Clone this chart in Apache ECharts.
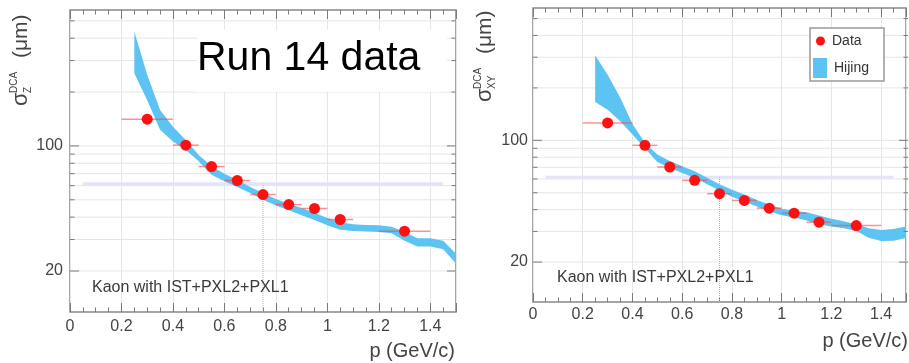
<!DOCTYPE html>
<html>
<head>
<meta charset="utf-8">
<script src="https://cdn.jsdelivr.net/npm/echarts@6/dist/echarts.min.js"></script>
<style>
  html, body { margin: 0; padding: 0; background: #fff; }
  #c { width: 909px; height: 363px; }
</style>
</head>
<body>
<div id="c"></div>
<script>
// ---- Kaon DCA resolution vs momentum, Run 14 data compared with Hijing ----

// sigma_Z panel: bin centres, bin edges (GeV/c) and resolution (um)
const pZ      = [0.3, 0.45, 0.55, 0.65, 0.75, 0.85, 0.95, 1.05, 1.3];
const pZLo    = [0.2, 0.4, 0.5, 0.6, 0.7, 0.8, 0.9, 1.0, 1.2];
const pZHi    = [0.4, 0.5, 0.6, 0.7, 0.8, 0.9, 1.0, 1.1, 1.4];
const sigmaZ  = [141, 101, 76.7, 64.1, 53.5, 47.0, 44.7, 38.8, 33.4];

// sigma_XY panel
const pXY      = [0.3, 0.45, 0.55, 0.65, 0.75, 0.85, 0.95, 1.05, 1.15, 1.3];
const pXYLo    = [0.2, 0.4, 0.5, 0.6, 0.7, 0.8, 0.9, 1.0, 1.1, 1.2];
const pXYHi    = [0.4, 0.5, 0.6, 0.7, 0.8, 0.9, 1.0, 1.1, 1.2, 1.4];
const sigmaXY  = [125.8, 93.6, 70.3, 58.9, 49.4, 45.2, 40.8, 38.2, 33.9, 32.4];

// Hijing simulation bands (lower / upper edge, um)
const hijingP = [0.25, 0.30, 0.35, 0.40, 0.45, 0.50, 0.55, 0.60, 0.65, 0.70, 0.75, 0.80, 0.85,
                 0.90, 0.95, 1.00, 1.05, 1.10, 1.15, 1.20, 1.25, 1.30, 1.35, 1.40, 1.45, 1.50];
const hijingZHi  = [435, 250, 159, 128, 108, 89, 77, 70, 64.5, 59, 54.5, 50.5, 47.5,
                    45, 42.3, 39.5, 37.5, 36.5, 36.2, 36, 35.4, 33, 30.5, 30.5, 29.5, 25];
const hijingZLo  = [255, 180, 123, 106, 95, 82, 69, 63.5, 59, 54.5, 50, 46.5, 43.7,
                    41, 38.6, 36, 34, 33.5, 33.2, 33, 32.5, 29.5, 27.4, 27.4, 26.5, 22];
const hijingXYHi = [308, 238, 177, 124, 97, 83, 76, 71, 66.5, 61, 56, 52, 48.8,
                    45.5, 42.8, 40.5, 39.3, 38.7, 37, 35.5, 34.3, 33, 31.3, 30.6, 31, 32];
const hijingXYLo = [166, 150, 129, 108, 90, 75, 69.5, 65, 61, 56, 51.5, 47.5, 44.6,
                    41.7, 39.2, 37.2, 36, 34.7, 33, 32, 31.3, 30.2, 27.6, 26.4, 26.5, 27.5];

// 60 um requirement level and the 0.75 GeV/c reference momentum
const targetSigma = [61.5, 61.3];
const targetSpan  = [0.05, 1.45];
const targetP     = 0.75;

// axis tick values
const xTickStep   = 0.2;
const yRange      = [11.8, 575];
const yTickValues = [20, 30, 40, 50, 60, 70, 80, 90, 100, 200, 300, 400, 500];
const yLabelValues = [20, 100];

const FONT = "'Liberation Sans', Arial, Helvetica, sans-serif";
const HIJING_COLOR = '#5cc3f3';
const DATA_COLOR = '#ff1010';
const AXIS_COLOR = '#7a7a7a';
const GRID_COLOR = '#e6e6e6';

const grids = [
  { left: 70,  top: 10, width: 386, height: 302 },
  { left: 533, top: 8,  width: 375, height: 294 }
];

const chart = echarts.init(document.getElementById('c'), null, { renderer: 'canvas' });

function xLabelFmt(v) {
  const k = v / xTickStep;
  return Math.abs(k - Math.round(k)) < 1e-6 ? String(+v.toFixed(1)) : '';
}

function xAxisBottom(gi, margin) {
  return {
    type: 'value', gridIndex: gi, position: 'bottom', min: 0, max: 1.5, interval: xTickStep,
    axisLine: { show: false },
    axisTick: { show: true, inside: true, length: 9, lineStyle: { color: AXIS_COLOR, width: 1 } },
    minorTick: { show: true, splitNumber: 4, length: 4.5, lineStyle: { color: AXIS_COLOR, width: 1 } },
    splitLine: { show: true, lineStyle: { color: GRID_COLOR, width: 1 } },
    axisLabel: { show: true, fontSize: 16, color: '#444', fontFamily: FONT, margin: margin, formatter: xLabelFmt }
  };
}
function xAxisTop(gi) {
  return {
    type: 'value', gridIndex: gi, position: 'top', min: 0, max: 1.5, interval: xTickStep,
    axisLine: { show: false },
    axisTick: { show: true, inside: true, length: 9, lineStyle: { color: AXIS_COLOR, width: 1 } },
    minorTick: { show: true, splitNumber: 4, length: 4.5, lineStyle: { color: AXIS_COLOR, width: 1 } },
    splitLine: { show: false },
    axisLabel: { show: false }
  };
}
function yAxisLog(gi) {
  return {
    type: 'log', logBase: 10, gridIndex: gi, min: yRange[0], max: yRange[1],
    axisLine: { show: false }, axisTick: { show: false }, axisLabel: { show: false },
    splitLine: { show: false }, minorTick: { show: false }
  };
}

function bandSeries(xi, yi, p, lo, hi) {
  return {
    type: 'custom', name: 'Hijing', xAxisIndex: xi, yAxisIndex: yi, z: 2, silent: true, clip: true,
    itemStyle: { color: HIJING_COLOR },
    data: p.map((v, i) => [v, lo[i], hi[i]]),
    encode: { x: 0, y: [1, 2] },
    renderItem: function (params, api) {
      if (params.dataIndex !== 0) return null;
      const pts = [];
      for (let i = 0; i < p.length; i++) pts.push(api.coord([p[i], hi[i]]));
      for (let i = p.length - 1; i >= 0; i--) pts.push(api.coord([p[i], lo[i]]));
      return { type: 'polygon', shape: { points: pts }, style: { fill: HIJING_COLOR } };
    }
  };
}

function errorSeries(xi, yi, lo, hi, y) {
  return {
    type: 'custom', name: 'Data', xAxisIndex: xi, yAxisIndex: yi, z: 3, silent: true,
    itemStyle: { color: DATA_COLOR },
    data: lo.map((l, i) => [l, hi[i], y[i]]),
    encode: { x: [0, 1], y: 2 },
    renderItem: function (params, api) {
      const yv = api.value(2);
      const a = api.coord([api.value(0), yv]);
      const b = api.coord([api.value(1), yv]);
      return { type: 'line', shape: { x1: a[0], y1: a[1], x2: b[0], y2: b[1] },
               style: { stroke: 'rgba(255,70,70,0.6)', lineWidth: 1.5 } };
    }
  };
}

function pointSeries(xi, yi, p, y) {
  return {
    type: 'scatter', name: 'Data', xAxisIndex: xi, yAxisIndex: yi, z: 4, silent: true,
    symbol: 'circle', symbolSize: 11, itemStyle: { color: DATA_COLOR, opacity: 1 },
    data: p.map((v, i) => [v, y[i]])
  };
}

function targetSeries(xi, yi, level) {
  return [
    { type: 'line', xAxisIndex: xi, yAxisIndex: yi, z: 1, silent: true, symbol: 'none',
      lineStyle: { color: '#e3e3f9', width: 3 },
      data: [[targetSpan[0], level], [targetSpan[1], level]] },
    { type: 'line', xAxisIndex: xi, yAxisIndex: yi, z: 1, silent: true, symbol: 'none',
      lineStyle: { color: '#a9a9ee', width: 1, type: 'dotted' },
      data: [[targetP, yRange[0]], [targetP, level]] }
  ];
}

const legendText = { fontSize: 14, color: '#333', fontFamily: FONT, padding: [0, 0, 0, 2] };

const option = {
  animation: false,
  backgroundColor: '#fff',
  grid: grids.map(g => Object.assign({ show: true, borderColor: '#888', borderWidth: 1.5,
                                        backgroundColor: 'transparent' }, g)),
  xAxis: [xAxisBottom(0, 7), xAxisTop(0), xAxisBottom(1, 5), xAxisTop(1)],
  yAxis: [yAxisLog(0), yAxisLog(1)],
  legend: [
    { data: ['Data'], icon: 'circle', itemWidth: 9, itemHeight: 9, left: 816, top: 34,
      padding: 0, selectedMode: false, z: 6, textStyle: legendText },
    { data: ['Hijing'], icon: 'rect', itemWidth: 14, itemHeight: 20, left: 813, top: 58,
      padding: 0, selectedMode: false, z: 6, textStyle: legendText }
  ],
  series: [
    ...targetSeries(0, 0, targetSigma[0]),
    bandSeries(0, 0, hijingP, hijingZLo, hijingZHi),
    errorSeries(0, 0, pZLo, pZHi, sigmaZ),
    pointSeries(0, 0, pZ, sigmaZ),
    ...targetSeries(2, 1, targetSigma[1]),
    bandSeries(2, 1, hijingP, hijingXYLo, hijingXYHi),
    errorSeries(2, 1, pXYLo, pXYHi, sigmaXY),
    pointSeries(2, 1, pXY, sigmaXY)
  ]
};

chart.setOption(option);

// ---- log-axis ticks, grid lines, labels and annotations ----
function seg(x1, y1, x2, y2, color, w, z) {
  return { type: 'line', silent: true, z: z, shape: { x1, y1, x2, y2 }, style: { stroke: color, lineWidth: w } };
}
function label(x, y, text, size, align, vAlign, color, z) {
  return { type: 'text', silent: true, z: z || 6, x: x, y: y,
           style: { text: text, fontSize: size, fontFamily: FONT, fill: color || '#444',
                    align: align, verticalAlign: vAlign } };
}
function yTitle(x, y, sub) {
  const base = { fontFamily: FONT, fill: '#444', verticalAlign: 'middle' };
  return { type: 'group', x: x, y: y, rotation: Math.PI / 2, silent: true, z: 6, children: [
    { type: 'text', x: 0, y: 0, style: Object.assign({ text: 'σ', fontSize: 22 }, base) },
    { type: 'text', x: 13, y: -7, style: Object.assign({ text: 'DCA', fontSize: 10 }, base) },
    { type: 'text', x: 13, y: 7, style: Object.assign({ text: sub, fontSize: 10 }, base) },
    { type: 'text', x: 48, y: 0, style: Object.assign({ text: '(μm)', fontSize: 21 }, base) }
  ] };
}

const g = [];
const labelGap = [7, 5];
grids.forEach((gr, k) => {
  const L = gr.left, R = gr.left + gr.width;
  yTickValues.forEach(v => {
    const y = chart.convertToPixel({ yAxisIndex: k }, v);
    const major = yLabelValues.indexOf(v) >= 0;
    const len = major ? 9 : 4.5;
    g.push(seg(L, y, R, y, GRID_COLOR, 1, 1));
    g.push(seg(L, y, L + len, y, AXIS_COLOR, 1, 5));
    g.push(seg(R - len, y, R, y, AXIS_COLOR, 1, 5));
    if (major) g.push(label(L - labelGap[k], y, String(v), 16, 'right', 'middle', '#444'));
  });
});

// axis titles
g.push(yTitle(21, 106, 'Z'));
g.push(yTitle(485, 102, 'XY'));
g.push(label(455, 351, 'p (GeV/c)', 20, 'right', 'middle', '#444'));
g.push(label(908, 341, 'p (GeV/c)', 20, 'right', 'middle', '#444'));

// track selection captions
g.push(label(92, 288, 'Kaon with IST+PXL2+PXL1', 16, 'left', 'middle', '#3a3a3a'));
g.push(label(557, 278, 'Kaon with IST+PXL2+PXL1', 16, 'left', 'middle', '#3a3a3a'));

// run label on a white box
g.push({ type: 'rect', silent: true, z: 5, shape: { x: 197, y: 30, width: 250, height: 62 },
         style: { fill: '#fff' } });
g.push(label(197, 59, 'Run 14 data', 41, 'left', 'middle', '#000', 6));

// legend frame
g.push({ type: 'rect', silent: true, z: 4, shape: { x: 810, y: 28, width: 74, height: 53 },
         style: { fill: '#fff', stroke: '#999', lineWidth: 1.5 } });

chart.setOption({ graphic: { elements: g } });
</script>
</body>
</html>
